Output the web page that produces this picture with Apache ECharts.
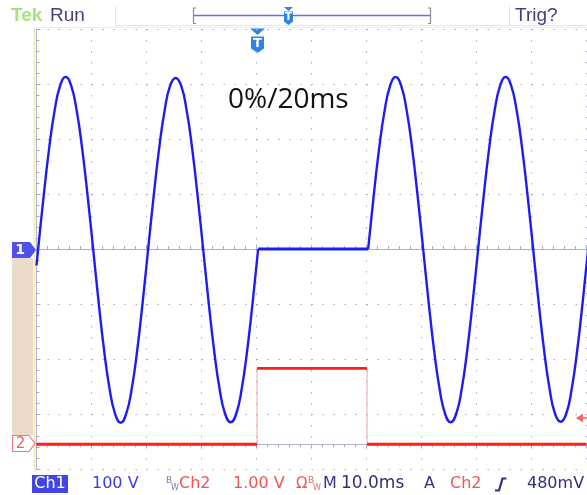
<!DOCTYPE html>
<html><head><meta charset="utf-8">
<script src="https://cdn.jsdelivr.net/npm/echarts@6/dist/echarts.min.js"></script>
<style>html,body{margin:0;padding:0;background:#fff}#c{width:587px;height:495px}</style>
</head><body><div id="c"></div>
<script>
// Time axis: 10.0 ms/div, 10 divisions
const timeMin = 0, timeMax = 100, timeStep = 10;
// Ch1: 100 V/div, 8 divisions, ground at centre
const ch1Min = -400, ch1Max = 400, ch1Step = 100;
// Ch1 segment A (ms, V)
const ch1TimesA = [0,0.3,1.3,2.3,3.3,4.3,5.3,6.3,7.3,8.3,9.3,10.3,11.3,12.3,13.3,14.3,15.3,16.3,17.3,18.3,19.3,20.3,21.3,22.3,23.3,24.3,25.3,26.3,27.3,28.3,29.3,30.3,31.3,32.3,33.3,34.3,35.3,36.3,37.3,38.3,39.3,40.3];
const ch1VoltsA = [-30,0,96,183,252,297,313,297,252,183,96,0,-97,-185,-255,-300,-316,-300,-255,-185,-97,0,96,183,252,297,311,297,252,183,96,0,-97,-185,-255,-300,-315,-300,-255,-185,-97,0];
// Ch1 flat (switched off) segment
const ch1FlatTimes = [40.3, 60.3];
const ch1FlatVolts = [0, 0];
// Ch1 segment B
const ch1TimesB = [60.3,61.3,62.3,63.3,64.3,65.3,66.3,67.3,68.3,69.3,70.3,71.3,72.3,73.3,74.3,75.3,76.3,77.3,78.3,79.3,80.3,81.3,82.3,83.3,84.3,85.3,86.3,87.3,88.3,89.3,90.3,91.3,92.3,93.3,94.3,95.3,96.3,97.3,98.3,99.3,100.3];
const ch1VoltsB = [0,96,183,252,297,313,297,252,183,96,0,-97,-185,-255,-300,-315,-300,-255,-185,-97,0,96,183,252,297,313,297,252,183,96,0,-97,-185,-255,-300,-314,-300,-255,-185,-97,0];
// Ch2: 1.00 V/div, ground marker 3.55 div below centre
const ch2Min = -0.45, ch2Max = 7.55;
const ch2Times = [0, 40.1, 40.1, 60.1, 60.1, 100];
const ch2Volts = [0, 0, 1.38, 1.38, 0, 0];

const zip = (a, b) => a.map((t, i) => [t, b[i]]);
const ch2Thick = [];
ch2Times.forEach((t, i) => {
  if (i > 0 && t === ch2Times[i - 1]) ch2Thick.push(null);
  ch2Thick.push([t, ch2Volts[i]]);
});

const gridCol = '#a8a8c8';
const rulerAxis = (pos, extra) => Object.assign({
  type: 'value', position: pos,
  axisLabel: { show: false },
  axisLine: { show: true, lineStyle: { color: gridCol, type: [1, 1], width: 1 } },
  axisTick: { show: true, inside: true, length: 4, lineStyle: { color: gridCol } },
  minorTick: { show: true, splitNumber: 5, length: 3, lineStyle: { color: gridCol } },
  splitLine: { show: false }
}, extra);

const DV = '"DejaVu Sans"';
const LS = '"Liberation Sans"';
const bar = 484;
const option = {
  animation: false,
  backgroundColor: '#ffffff',
  grid: { left: 36.5, right: 0.5, top: 29, bottom: 26 },
  xAxis: [
    rulerAxis('bottom', { min: timeMin, max: timeMax, interval: timeStep,
      splitLine: { show: true, lineStyle: { color: gridCol, type: [1.5, 9.5], width: 1 } } }),
    rulerAxis('top', { min: timeMin, max: timeMax, interval: timeStep })
  ],
  yAxis: [
    rulerAxis('left', { min: ch1Min, max: ch1Max, interval: ch1Step,
      splitLine: { show: true, lineStyle: { color: gridCol, type: [1.5, 9.5], width: 1 } } }),
    { type: 'value', min: ch2Min, max: ch2Max, show: false, splitLine: { show: false } }
  ],
  series: [
    { type: 'line', data: zip(ch2Times, ch2Volts), yAxisIndex: 1, showSymbol: false,
      lineStyle: { color: '#ffa0a0', width: 1 }, z: 3 },
    { type: 'line', data: ch2Thick, yAxisIndex: 1, showSymbol: false, connectNulls: false,
      lineStyle: { color: '#ff1e1e', width: 2.8 }, z: 4 },
    { type: 'line', data: zip(ch1TimesA, ch1VoltsA), smooth: 0.5, showSymbol: false,
      lineStyle: { color: '#1c1cf5', width: 2.4 }, z: 5 },
    { type: 'line', data: zip(ch1FlatTimes, ch1FlatVolts), showSymbol: false,
      lineStyle: { color: '#1c1cf5', width: 2.8 }, z: 5 },
    { type: 'line', data: zip(ch1TimesB, ch1VoltsB), smooth: 0.5, showSymbol: false,
      lineStyle: { color: '#1c1cf5', width: 2.4 }, z: 5 }
  ],
  graphic: [
    // frame lines
    { type: 'line', shape: { x1: 115, y1: 25.5, x2: 587, y2: 25.5 }, style: { stroke: '#efe6c4', lineWidth: 1 } },
    { type: 'line', shape: { x1: 115.5, y1: 6, x2: 115.5, y2: 25 }, style: { stroke: '#ece4d2', lineWidth: 1 } },
    { type: 'line', shape: { x1: 509.5, y1: 6, x2: 509.5, y2: 25 }, style: { stroke: '#ece4d2', lineWidth: 1 } },
    { type: 'line', shape: { x1: 34.5, y1: 27, x2: 34.5, y2: 472 }, style: { stroke: '#f2eeb8', lineWidth: 2 } },
    { type: 'line', shape: { x1: 35, y1: 27.5, x2: 587, y2: 27.5 }, style: { stroke: '#f5f0c8', lineWidth: 1 } },
    // header
    { type: 'text', x: 11, y: 16, style: { text: 'Tek', font: 'bold 19px ' + LS, fill: '#a6e27f', verticalAlign: 'middle' } },
    { type: 'text', x: 50, y: 16, style: { text: 'Run', font: '19px ' + LS, fill: '#41417f', verticalAlign: 'middle' } },
    { type: 'text', x: 515, y: 16, style: { text: 'Trig?', font: '19px ' + LS, fill: '#41417f', verticalAlign: 'middle' } },
    { type: 'line', shape: { x1: 194, y1: 15.5, x2: 430, y2: 15.5 }, style: { stroke: '#6a6aff', lineWidth: 1.5 } },
    { type: 'polyline', shape: { points: [[196, 8], [193.5, 8], [193.5, 23.5], [196, 23.5]] }, style: { stroke: '#8a8aa8', lineWidth: 1.2, fill: null } },
    { type: 'polyline', shape: { points: [[428, 8], [430.5, 8], [430.5, 23.5], [428, 23.5]] }, style: { stroke: '#8a8aa8', lineWidth: 1.2, fill: null } },
    { type: 'polygon', shape: { points: [[284, 7], [293, 7], [288.5, 11]] }, style: { fill: '#2d83e6' } },
    { type: 'polygon', shape: { points: [[284, 11.5], [293, 11.5], [293, 21.5], [288.5, 25], [284, 21.5]] }, style: { fill: '#2d83e6' } },
    { type: 'text', x: 288.5, y: 17, style: { text: 'T', font: 'bold 10px ' + DV, fill: '#ffffff', align: 'center', verticalAlign: 'middle' } },
    // trigger position marker
    { type: 'polygon', shape: { points: [[250, 28.5], [265, 28.5], [257.5, 35]] }, style: { fill: '#2d83e6' } },
    { type: 'polygon', shape: { points: [[251, 36.5], [264, 36.5], [264, 48.5], [257.5, 53], [251, 48.5]] }, style: { fill: '#2d83e6' } },
    { type: 'text', x: 257.5, y: 44, style: { text: 'T', font: 'bold 13px ' + DV, fill: '#ffffff', align: 'center', verticalAlign: 'middle' } },
    // annotation
    { type: 'text', x: 228, y: 100, style: { text: '0%/20ms', font: '28px "Open Sans"', fill: '#111111', verticalAlign: 'middle' } },
    // channel markers
    { type: 'rect', shape: { x: 12, y: 258, width: 21, height: 177 }, style: { fill: '#ecdbca' } },
    { type: 'polygon', shape: { points: [[12, 242], [30, 242], [36, 250], [30, 258], [12, 258]] }, style: { fill: '#5050ec' } },
    { type: 'text', x: 20, y: 250, style: { text: '1', font: 'bold 14px ' + DV, fill: '#ffffff', align: 'center', verticalAlign: 'middle' } },
    { type: 'polygon', shape: { points: [[12.5, 435.5], [29, 435.5], [35, 443.5], [29, 451.5], [12.5, 451.5]] }, style: { fill: '#ffffff', stroke: '#f07a7a', lineWidth: 1.2 } },
    { type: 'text', x: 20.5, y: 444, style: { text: '2', font: '15px ' + DV, fill: '#f05a5a', align: 'center', verticalAlign: 'middle' } },
    // trigger level arrow
    { type: 'polygon', shape: { points: [[576, 418], [583, 413.5], [583, 422.5]] }, style: { fill: '#f06868' } },
    { type: 'line', shape: { x1: 583, y1: 418, x2: 587, y2: 418 }, style: { stroke: '#f06868', lineWidth: 1.5 } },
    // status bar
    { type: 'rect', shape: { x: 32, y: 475, width: 36, height: 18 }, style: { fill: '#4343ea' } },
    { type: 'text', x: 50, y: bar, style: { text: 'Ch1', font: '16px ' + DV, fill: '#ffffff', align: 'center', verticalAlign: 'middle' } },
    { type: 'text', x: 92, y: bar, style: { text: '100 V', font: '16px ' + DV, fill: '#3c3cee', verticalAlign: 'middle' } },
    { type: 'text', x: 166, y: 481, style: { text: 'B', font: '9px ' + DV, fill: '#7a7ab0', verticalAlign: 'middle' } },
    { type: 'text', x: 171, y: 488, style: { text: 'W', font: '8px ' + DV, fill: '#7a7ab0', verticalAlign: 'middle' } },
    { type: 'text', x: 179, y: bar, style: { text: 'Ch2', font: '16px ' + DV, fill: '#f05454', verticalAlign: 'middle' } },
    { type: 'text', x: 233, y: bar, style: { text: '1.00 V', font: '16px ' + DV, fill: '#f05454', verticalAlign: 'middle' } },
    { type: 'text', x: 296, y: bar, style: { text: 'Ω', font: '15px ' + DV, fill: '#f05454', verticalAlign: 'middle' } },
    { type: 'text', x: 308, y: 481, style: { text: 'B', font: '9px ' + DV, fill: '#e06a6a', verticalAlign: 'middle' } },
    { type: 'text', x: 313, y: 488, style: { text: 'W', font: '8px ' + DV, fill: '#e06a6a', verticalAlign: 'middle' } },
    { type: 'text', x: 323, y: bar, style: { text: 'M', font: '16px ' + DV, fill: '#35358a', verticalAlign: 'middle' } },
    { type: 'text', x: 341, y: bar, style: { text: '10.0ms', font: '17px ' + DV, fill: '#30307c', verticalAlign: 'middle' } },
    { type: 'text', x: 424, y: bar, style: { text: 'A', font: '16px ' + DV, fill: '#35358a', verticalAlign: 'middle' } },
    { type: 'text', x: 450, y: bar, style: { text: 'Ch2', font: '16px ' + DV, fill: '#f05454', verticalAlign: 'middle' } },
    { type: 'polyline', shape: { points: [[495, 490.5], [499, 490.5], [502.5, 478.5], [506.5, 478.5]] }, style: { stroke: '#30307c', lineWidth: 2.2, fill: null } },
    { type: 'text', x: 527, y: bar, style: { text: '480mV', font: '16px ' + DV, fill: '#30307c', verticalAlign: 'middle' } }
  ]
};
const chart = echarts.init(document.getElementById('c'), null, { renderer: 'canvas' });
chart.setOption(option);
</script>
</body></html>
